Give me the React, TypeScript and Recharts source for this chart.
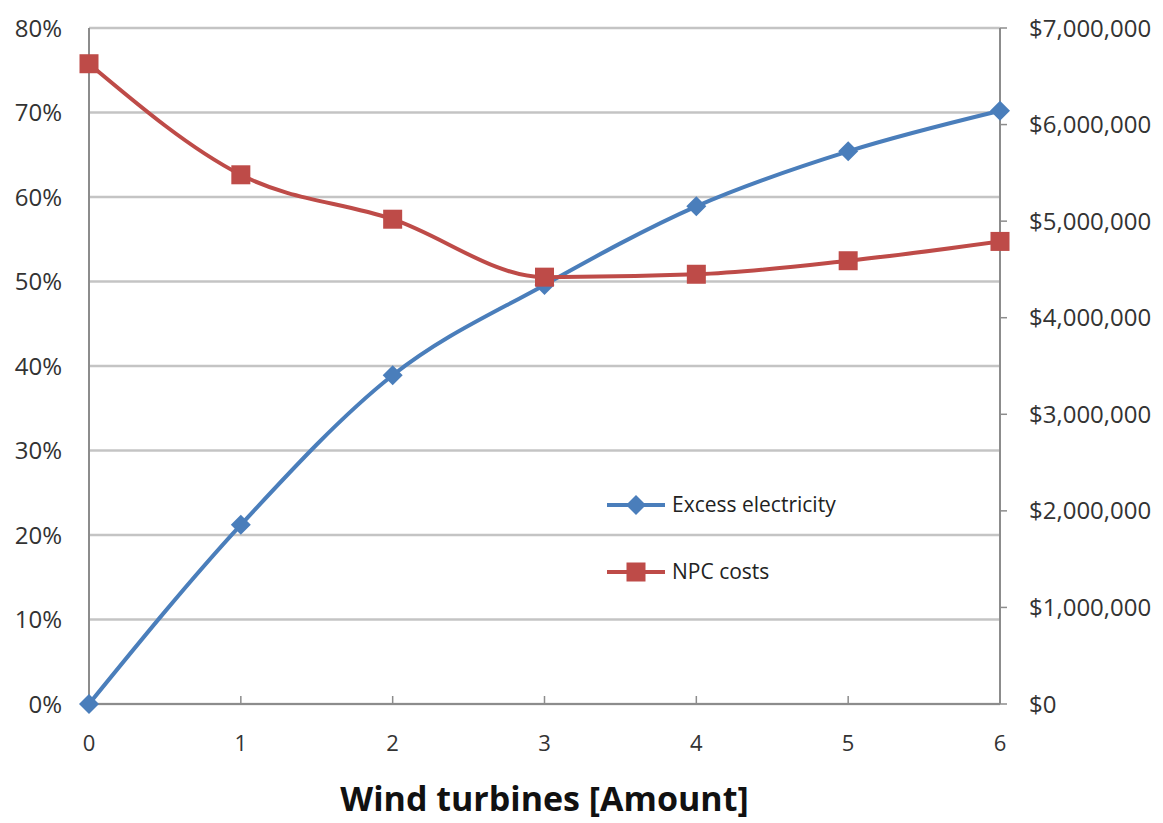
import {
  CartesianGrid,
  Line,
  LineChart,
  XAxis,
  YAxis,
} from "recharts";

const turbines = [0, 1, 2, 3, 4, 5, 6];
const excessElectricity = [0, 0.212, 0.389, 0.496, 0.589, 0.654, 0.702];
const npcCosts = [6630000, 5480000, 5020000, 4420000, 4450000, 4590000, 4790000];

const percentTicks = [0, 0.1, 0.2, 0.3, 0.4, 0.5, 0.6, 0.7, 0.8];
const dollarTicks = [0, 1000000, 2000000, 3000000, 4000000, 5000000, 6000000, 7000000];

const BLUE = "#4a7ebb";
const RED = "#be4b48";
const AXIS = "#8c8c8c";
const GRID = "#c4c4c4";
const FONT = "'Open Sans', sans-serif";

const data = turbines.map((t, i) => ({
  turbines: t,
  excess: excessElectricity[i],
  npc: npcCosts[i],
}));

const fmtPercent = (v: number) => `${Math.round(v * 100)}%`;
const fmtDollar = (v: number) => "$" + v.toLocaleString("en-US");

const Diamond = (props: any) => {
  const { cx, cy } = props;
  if (cx == null || cy == null) return null;
  const r = 10;
  return (
    <path
      d={`M${cx},${cy - r}L${cx + r},${cy}L${cx},${cy + r}L${cx - r},${cy}Z`}
      fill={BLUE}
    />
  );
};

const Square = (props: any) => {
  const { cx, cy } = props;
  if (cx == null || cy == null) return null;
  const s = 19;
  return <rect x={cx - s / 2} y={cy - s / 2} width={s} height={s} fill={RED} />;
};

// x ticks: small mark pointing up into the plot, label below
const XTick = (props: any) => {
  const { x, y, payload } = props;
  const axisY = y - 32;
  return (
    <g>
      {payload.value !== 0 && payload.value !== 6 && (
        <line x1={x} x2={x} y1={axisY} y2={axisY - 8} stroke={AXIS} strokeWidth={1.5} />
      )}
      <text x={x} y={y + 7} dy="0.35em" textAnchor="middle" fill="#333" fontSize={22} fontFamily={FONT}>
        {payload.value}
      </text>
    </g>
  );
};

const LegendBox = () => (
  <g fontFamily={FONT} fontSize={21} fill="#222">
    <line x1={607} x2={665} y1={505} y2={505} stroke={BLUE} strokeWidth={4} />
    <Diamond cx={636} cy={505} />
    <text x={672} y={505} dy="0.35em">Excess electricity</text>
    <line x1={607} x2={665} y1={572} y2={572} stroke={RED} strokeWidth={4} />
    <Square cx={636} cy={572} />
    <text x={672} y={572} dy="0.35em">NPC costs</text>
  </g>
);

export default function App() {
  return (
    <div style={{ position: "absolute", left: 0, top: 0, background: "#fff" }}>
      <LineChart
        width={1163}
        height={823}
        data={data}
        margin={{ top: 28, right: 0, bottom: 0, left: 0 }}
      >
        <CartesianGrid vertical={false} stroke={GRID} strokeWidth={2.5} yAxisId="left" />
        <XAxis
          dataKey="turbines"
          type="number"
          domain={[0, 6]}
          ticks={turbines}
          height={119}
          stroke={AXIS}
          strokeWidth={2}
          tickLine={false}
          tickSize={6}
          tickMargin={26}
          tick={<XTick />}
          label={{
            value: "Wind turbines [Amount]",
            position: "insideBottom",
            offset: 12,
            fontSize: 34,
            fontWeight: 700,
            fontFamily: FONT,
            fill: "#111",
          }}
        />
        <YAxis
          yAxisId="left"
          domain={[0, 0.8]}
          ticks={percentTicks}
          tickFormatter={fmtPercent}
          width={89}
          stroke={AXIS}
          strokeWidth={2}
          tickLine={false}
          tickSize={6}
          tickMargin={21}
          tick={{ fill: "#333", fontSize: 24, fontFamily: FONT }}
        />
        <YAxis
          yAxisId="right"
          orientation="right"
          domain={[0, 7000000]}
          ticks={dollarTicks}
          tickFormatter={fmtDollar}
          width={163}
          stroke={AXIS}
          strokeWidth={2}
          tickLine={{ stroke: AXIS, strokeWidth: 1.5 }}
          tickSize={7}
          tickMargin={22}
          tick={{ fill: "#333", fontSize: 24, fontFamily: FONT, textAnchor: "start" }}
        />
        <Line
          yAxisId="left"
          type="monotone"
          dataKey="excess"
          stroke={BLUE}
          strokeWidth={4}
          dot={<Diamond />}
          activeDot={false}
          isAnimationActive={false}
        />
        <Line
          yAxisId="right"
          type="monotone"
          dataKey="npc"
          stroke={RED}
          strokeWidth={4}
          dot={<Square />}
          activeDot={false}
          isAnimationActive={false}
        />
        <LegendBox />
      </LineChart>
    </div>
  );
}
